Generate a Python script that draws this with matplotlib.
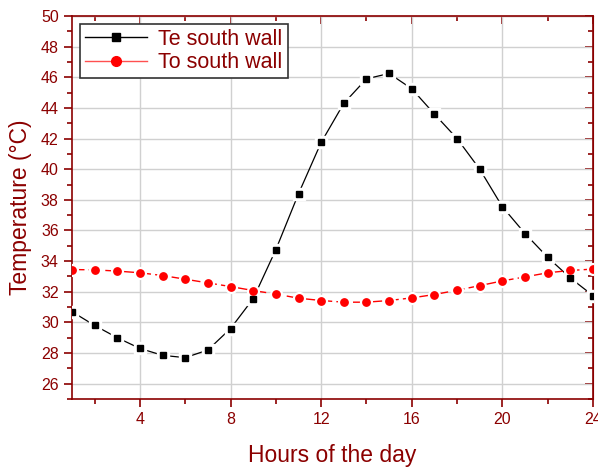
import matplotlib
matplotlib.use("Agg")
import matplotlib.pyplot as plt
from matplotlib.ticker import MultipleLocator

plt.rcParams['font.family'] = ['Liberation Sans', 'DejaVu Sans']

# hourly temperatures
hours = list(range(1, 25))
te_south = [30.7, 29.8, 29.0, 28.3, 27.85, 27.7, 28.2, 29.6, 31.55, 34.75,
            38.4, 41.75, 44.3, 45.9, 46.25, 45.25, 43.6, 42.0, 40.0, 37.55,
            35.8, 34.25, 32.9, 31.75]
to_south = [33.45, 33.43, 33.35, 33.24, 33.06, 32.82, 32.58, 32.34, 32.08, 31.85,
            31.58, 31.43, 31.32, 31.32, 31.43, 31.6, 31.82, 32.1, 32.4, 32.71,
            32.97, 33.24, 33.39, 33.48]

dark_red = '#8B0000'

fig = plt.figure(figsize=(5.98, 4.67), dpi=100)
ax = fig.add_axes([0.1204, 0.1456, 0.8712, 0.8201])

# lines first, then a white halo so the line stops short of each marker (Origin look)
ax.plot(hours, te_south, color='black', lw=0.9, zorder=2)
ax.plot(hours, to_south, color='red', lw=1, ls=(0, (9, 3)), zorder=2)
ax.plot(hours, te_south, ls='none', marker='s', ms=8, color='white', zorder=3)
ax.plot(hours, to_south, ls='none', marker='o', ms=8.5, color='white', zorder=3)
ax.plot(hours, te_south, ls='none', marker='s', ms=4.6, color='black', zorder=4)
ax.plot(hours, to_south, ls='none', marker='o', ms=5.3, color='red', zorder=4)

# legend handles
ax.plot([], [], color='black', lw=1, marker='s', ms=6, label='Te south wall')
ax.plot([], [], color='#ff5050', lw=1, marker='o', ms=7, markerfacecolor='red',
        markeredgecolor='red', label='To south wall')

ax.set_xlim(1, 24)
ax.set_ylim(25, 50)
ax.xaxis.set_major_locator(MultipleLocator(4))
ax.xaxis.set_minor_locator(MultipleLocator(2))
ax.yaxis.set_major_locator(MultipleLocator(2))
ax.yaxis.set_minor_locator(MultipleLocator(1))
ax.set_yticks(range(26, 51, 2))

ax.grid(True, which='major', color='#d0d0d0', lw=1)
ax.set_axisbelow(True)

for sp in ax.spines.values():
    sp.set_color(dark_red)
    sp.set_linewidth(1.2)

ax.tick_params(axis='both', which='both', colors=dark_red, labelcolor=dark_red,
               labelsize=11.5, width=1.2, direction='out')
ax.tick_params(axis='both', which='major', length=6)
ax.tick_params(axis='both', which='minor', length=3.5)

# top and right ticks point inward
ax2 = ax.secondary_xaxis('top')
ax2.xaxis.set_major_locator(MultipleLocator(4))
ax2.xaxis.set_minor_locator(MultipleLocator(2))
ax2.tick_params(which='both', direction='in', colors=dark_red, labeltop=False, width=1.2)
ax2.tick_params(which='major', length=6)
ax2.tick_params(which='minor', length=3.5)
ax2.spines['top'].set_color(dark_red)
ax3 = ax.secondary_yaxis('right')
ax3.yaxis.set_major_locator(MultipleLocator(2))
ax3.yaxis.set_minor_locator(MultipleLocator(1))
ax3.tick_params(which='both', direction='in', colors=dark_red, labelright=False, width=1.2)
ax3.tick_params(which='major', length=6)
ax3.tick_params(which='minor', length=3.5)
ax3.spines['right'].set_color(dark_red)

ax.set_xlabel('Hours of the day', fontsize=16.5, color=dark_red, labelpad=12)
ax.set_ylabel('Temperature (°C)', fontsize=16.5, color=dark_red, labelpad=6)

leg = ax.legend(loc='upper left', fontsize=15.5, frameon=True, fancybox=False,
                edgecolor='#333333', handlelength=2.9, borderaxespad=0.35,
                borderpad=0.25, labelspacing=0.1, handletextpad=0.5, framealpha=1)
leg.get_frame().set_linewidth(1.2)
for t in leg.get_texts():
    t.set_color(dark_red)

fig.savefig('out.png', dpi=100)
